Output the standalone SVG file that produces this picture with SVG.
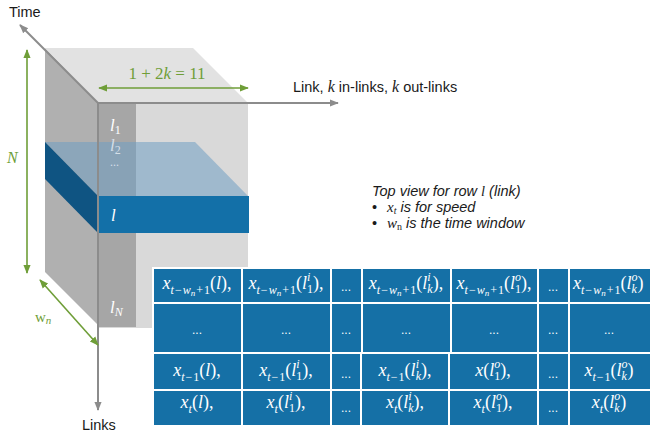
<svg xmlns="http://www.w3.org/2000/svg" width="650" height="436" viewBox="0 0 650 436">
<style>
.lbl{font-family:"Liberation Sans",Arial,sans-serif;font-size:14.5px;fill:#1a1a1a}
.note{font-family:"Liberation Sans",Arial,sans-serif;font-size:14.5px;fill:#1a1a1a;font-style:italic}
.mth{font-family:"Liberation Serif","Times New Roman",serif}
.grn{fill:#6f9e38}
.wt{fill:#ffffff}
.t{font-family:"Liberation Serif","Times New Roman",serif;font-size:18px;fill:#ffffff;text-anchor:middle}
.ts{font-family:"Liberation Serif","Times New Roman",serif;font-size:18px;fill:#ffffff}
.d{font-family:"Liberation Sans",Arial,sans-serif;font-size:12px;fill:#ffffff;text-anchor:middle}
.i{font-style:italic}
.s{font-size:12px}
.ss{font-size:9px}
.cell{fill:#1570a6;stroke:#ffffff;stroke-width:2}
.axis{stroke:#8c8c8c;stroke-width:2;fill:none}
.dim{stroke:#6f9e38;stroke-width:1.6;fill:none}
</style>
<defs>
<marker id="ag" viewBox="0 0 10 10" refX="9" refY="5" markerWidth="9" markerHeight="9" markerUnits="userSpaceOnUse" orient="auto"><path d="M0,1 L10,5 L0,9 z" fill="#8c8c8c"/></marker>
<marker id="gr" viewBox="0 0 10 10" refX="9" refY="5" markerWidth="9" markerHeight="9" markerUnits="userSpaceOnUse" orient="auto-start-reverse"><path d="M0,1 L10,5 L0,9 z" fill="#6f9e38"/></marker>
</defs>

<g id="cube">
<polygon points="45,48 98,103 98,325 45,272" fill="#b0b0b0"/>
<polygon points="45,48 193,48 248,103 98,103" fill="#e2e2e2"/>
<rect x="98" y="103" width="150" height="225" fill="#d9d9d9"/>
<rect x="98" y="103" width="38" height="224" fill="#a6a6a6"/>
<polygon points="45,142 195,142 248,196 98,196" fill="#6f9fc2" opacity="0.55"/>
<polygon points="45,142 98,196 98,233 45,179" fill="#0f5482"/>
<rect x="98" y="196" width="151" height="37" fill="#1370a8"/>
</g>

<g id="row-labels" class="mth i" font-size="17">
<text x="110" y="131" class="wt">l<tspan class="s" font-style="normal" dy="3">1</tspan></text>
<text x="110" y="151" fill="#d5dfe8">l<tspan class="s" font-style="normal" dy="3">2</tspan></text>
<text x="110" y="166" fill="#d5dfe8" font-style="normal" font-size="12">...</text>
<text x="111" y="221" class="wt">l</text>
<text x="110" y="313" class="wt">l<tspan class="s" dy="3">N</tspan></text>
</g>

<g id="connectors">
<line x1="98" y1="103" x2="20" y2="25" class="axis" marker-end="url(#ag)"/>
<line x1="98" y1="103" x2="338" y2="103" class="axis" marker-end="url(#ag)"/>
<line x1="98" y1="103" x2="98" y2="410" class="axis" marker-end="url(#ag)"/>
<line x1="27" y1="50" x2="27" y2="273" class="dim" marker-start="url(#gr)" marker-end="url(#gr)"/>
<line x1="99" y1="88" x2="248" y2="88" class="dim" marker-start="url(#gr)" marker-end="url(#gr)"/>
<line x1="40" y1="280" x2="98" y2="345" class="dim" marker-start="url(#gr)" marker-end="url(#gr)"/>
</g>

<g id="axis-labels">
<text x="9" y="17" class="lbl">Time</text>
<text x="293" y="92" class="lbl">Link, <tspan class="mth i" font-size="16">k</tspan> in-links, <tspan class="mth i" font-size="16">k</tspan> out-links</text>
<text x="82" y="430" class="lbl">Links</text>
<text x="7" y="163" class="mth i grn" font-size="16">N</text>
<text x="167" y="79" class="mth grn" font-size="17" text-anchor="middle">1 + 2<tspan class="i">k</tspan> = 11</text>
<text x="35" y="322" class="mth grn" font-size="15">w<tspan class="i" font-size="11" dy="2">n</tspan></text>
</g>

<g id="note">
<text x="372" y="196" class="note">Top view for row <tspan class="mth">l</tspan>  (link)</text>
<text x="372" y="212" class="lbl">•</text>
<text x="387" y="212" class="note"><tspan class="mth" font-size="15">x</tspan><tspan class="mth" font-size="10" dy="2">t</tspan><tspan dy="-2"> is for speed</tspan></text>
<text x="372" y="228" class="lbl">•</text>
<text x="387" y="228" class="note"><tspan class="mth" font-size="15">w</tspan><tspan class="mth" font-size="10" dy="2" font-style="normal">n</tspan><tspan dy="-2"> is the time window</tspan></text>
</g>

<g id="table">
<rect class="cell" x="153" y="268" width="89" height="35"/>
<rect class="cell" x="242" y="268" width="89" height="35"/>
<rect class="cell" x="331" y="268" width="31" height="35"/>
<rect class="cell" x="362" y="268" width="89" height="35"/>
<rect class="cell" x="451" y="268" width="87" height="35"/>
<rect class="cell" x="538" y="268" width="31" height="35"/>
<rect class="cell" x="569" y="268" width="85" height="35"/>

<rect class="cell" x="153" y="303" width="89" height="50"/>
<rect class="cell" x="242" y="303" width="89" height="50"/>
<rect class="cell" x="331" y="303" width="31" height="50"/>
<rect class="cell" x="362" y="303" width="89" height="50"/>
<rect class="cell" x="451" y="303" width="87" height="50"/>
<rect class="cell" x="538" y="303" width="31" height="50"/>
<rect class="cell" x="569" y="303" width="85" height="50"/>

<rect class="cell" x="153" y="353" width="89" height="37"/>
<rect class="cell" x="242" y="353" width="89" height="37"/>
<rect class="cell" x="331" y="353" width="30" height="37"/>
<rect class="cell" x="361" y="353" width="88" height="37"/>
<rect class="cell" x="449" y="353" width="89" height="37"/>
<rect class="cell" x="538" y="353" width="31" height="37"/>
<rect class="cell" x="569" y="353" width="85" height="37"/>

<rect class="cell" x="153" y="390" width="89" height="36"/>
<rect class="cell" x="242" y="390" width="89" height="36"/>
<rect class="cell" x="331" y="390" width="30" height="36"/>
<rect class="cell" x="361" y="390" width="88" height="36"/>
<rect class="cell" x="449" y="390" width="89" height="36"/>
<rect class="cell" x="538" y="390" width="31" height="36"/>
<rect class="cell" x="569" y="390" width="85" height="36"/>
</g>

<g id="cells-row1">
<text x="197" y="289" class="t"><tspan class="i">x</tspan><tspan class="s i" dy="5">t</tspan><tspan class="s" dx="1">−</tspan><tspan class="s i" dx="1">w</tspan><tspan class="ss i" dy="2">n</tspan><tspan class="s" dy="-2" dx="1">+</tspan><tspan class="s" dx="1">1</tspan><tspan dy="-5">(</tspan><tspan class="i">l</tspan><tspan>),</tspan></text>
<text x="286" y="289" class="t"><tspan class="i">x</tspan><tspan class="s i" dy="5">t</tspan><tspan class="s" dx="1">−</tspan><tspan class="s i" dx="1">w</tspan><tspan class="ss i" dy="2">n</tspan><tspan class="s" dy="-2" dx="1">+</tspan><tspan class="s" dx="1">1</tspan><tspan dy="-5">(</tspan><tspan class="i">l</tspan><tspan class="s" dy="4">1</tspan><tspan class="s i" dx="-6" dy="-12">i</tspan><tspan dx="2.7" dy="8">),</tspan></text>
<text x="346" y="291" class="d">...</text>
<text x="406" y="289" class="t"><tspan class="i">x</tspan><tspan class="s i" dy="5">t</tspan><tspan class="s" dx="1">−</tspan><tspan class="s i" dx="1">w</tspan><tspan class="ss i" dy="2">n</tspan><tspan class="s" dy="-2" dx="1">+</tspan><tspan class="s" dx="1">1</tspan><tspan dy="-5">(</tspan><tspan class="i">l</tspan><tspan class="s i" dy="4">k</tspan><tspan class="s i" dx="-5.3" dy="-12">i</tspan><tspan dx="2" dy="8">),</tspan></text>
<text x="494" y="289" class="t"><tspan class="i">x</tspan><tspan class="s i" dy="5">t</tspan><tspan class="s" dx="1">−</tspan><tspan class="s i" dx="1">w</tspan><tspan class="ss i" dy="2">n</tspan><tspan class="s" dy="-2" dx="1">+</tspan><tspan class="s" dx="1">1</tspan><tspan dy="-5">(</tspan><tspan class="i">l</tspan><tspan class="s" dy="4">1</tspan><tspan class="s i" dx="-6" dy="-12">o</tspan><tspan dy="8">),</tspan></text>
<text x="553" y="291" class="d">...</text>
<text x="573" y="289" class="ts"><tspan class="i">x</tspan><tspan class="s i" dy="5">t</tspan><tspan class="s" dx="1">−</tspan><tspan class="s i" dx="1">w</tspan><tspan class="ss i" dy="2">n</tspan><tspan class="s" dy="-2" dx="1">+</tspan><tspan class="s" dx="1">1</tspan><tspan dy="-5">(</tspan><tspan class="i">l</tspan><tspan class="s i" dy="4">k</tspan><tspan class="s i" dx="-5.3" dy="-12">o</tspan><tspan dy="8">)</tspan></text>
</g>

<g id="cells-row2">
<text x="197" y="334" class="d">...</text>
<text x="286" y="334" class="d">...</text>
<text x="346" y="334" class="d">...</text>
<text x="406" y="334" class="d">...</text>
<text x="494" y="334" class="d">...</text>
<text x="553" y="334" class="d">...</text>
<text x="609" y="334" class="d">...</text>
</g>

<g id="cells-row3">
<text x="197" y="376" class="t"><tspan class="i">x</tspan><tspan class="s i" dy="5">t</tspan><tspan class="s" dx="1">−</tspan><tspan class="s" dx="1">1</tspan><tspan dy="-5">(</tspan><tspan class="i">l</tspan><tspan>),</tspan></text>
<text x="286" y="376" class="t"><tspan class="i">x</tspan><tspan class="s i" dy="5">t</tspan><tspan class="s" dx="1">−</tspan><tspan class="s" dx="1">1</tspan><tspan dy="-5">(</tspan><tspan class="i">l</tspan><tspan class="s" dy="4">1</tspan><tspan class="s i" dx="-6" dy="-12">i</tspan><tspan dx="2.7" dy="8">),</tspan></text>
<text x="346" y="378" class="d">...</text>
<text x="405" y="376" class="t"><tspan class="i">x</tspan><tspan class="s i" dy="5">t</tspan><tspan class="s" dx="1">−</tspan><tspan class="s" dx="1">1</tspan><tspan dy="-5">(</tspan><tspan class="i">l</tspan><tspan class="s i" dy="4">k</tspan><tspan class="s i" dx="-5.3" dy="-12">i</tspan><tspan dx="2" dy="8">),</tspan></text>
<text x="493" y="376" class="t"><tspan class="i">x</tspan><tspan>(</tspan><tspan class="i">l</tspan><tspan class="s" dy="4">1</tspan><tspan class="s i" dx="-6" dy="-12">o</tspan><tspan dy="8">),</tspan></text>
<text x="553" y="378" class="d">...</text>
<text x="609" y="376" class="t"><tspan class="i">x</tspan><tspan class="s i" dy="5">t</tspan><tspan class="s" dx="1">−</tspan><tspan class="s" dx="1">1</tspan><tspan dy="-5">(</tspan><tspan class="i">l</tspan><tspan class="s i" dy="4">k</tspan><tspan class="s i" dx="-5.3" dy="-12">o</tspan><tspan dy="8">)</tspan></text>
</g>

<g id="cells-row4">
<text x="197" y="408" class="t"><tspan class="i">x</tspan><tspan class="s i" dy="5">t</tspan><tspan dy="-5">(</tspan><tspan class="i">l</tspan><tspan>),</tspan></text>
<text x="286" y="408" class="t"><tspan class="i">x</tspan><tspan class="s i" dy="5">t</tspan><tspan dy="-5">(</tspan><tspan class="i">l</tspan><tspan class="s" dy="4">1</tspan><tspan class="s i" dx="-6" dy="-12">i</tspan><tspan dx="2.7" dy="8">),</tspan></text>
<text x="346" y="412" class="d">...</text>
<text x="405" y="408" class="t"><tspan class="i">x</tspan><tspan class="s i" dy="5">t</tspan><tspan dy="-5">(</tspan><tspan class="i">l</tspan><tspan class="s i" dy="4">k</tspan><tspan class="s i" dx="-5.3" dy="-12">i</tspan><tspan dx="2" dy="8">),</tspan></text>
<text x="493" y="408" class="t"><tspan class="i">x</tspan><tspan class="s i" dy="5">t</tspan><tspan dy="-5">(</tspan><tspan class="i">l</tspan><tspan class="s" dy="4">1</tspan><tspan class="s i" dx="-6" dy="-12">o</tspan><tspan dy="8">),</tspan></text>
<text x="553" y="412" class="d">...</text>
<text x="609" y="408" class="t"><tspan class="i">x</tspan><tspan class="s i" dy="5">t</tspan><tspan dy="-5">(</tspan><tspan class="i">l</tspan><tspan class="s i" dy="4">k</tspan><tspan class="s i" dx="-5.3" dy="-12">o</tspan><tspan dy="8">)</tspan></text>
</g>
</svg>
